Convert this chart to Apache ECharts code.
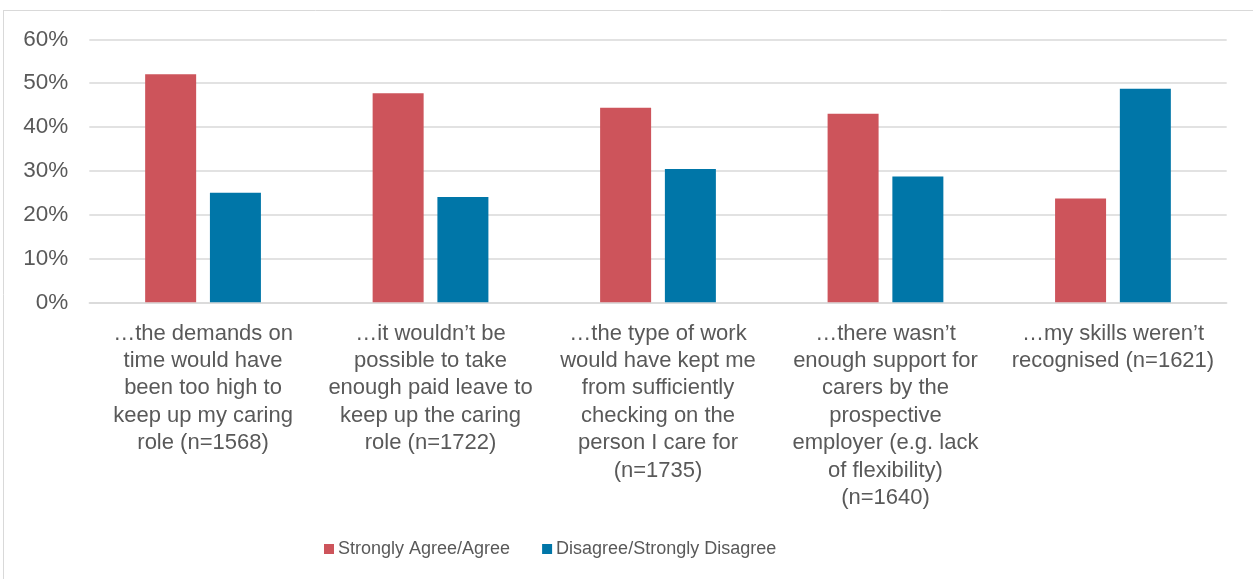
<!DOCTYPE html>
<html>
<head>
<meta charset="utf-8">
<script src="https://cdn.jsdelivr.net/npm/echarts@6/dist/echarts.min.js"></script>
<style>
  html, body { margin: 0; padding: 0; background: #ffffff; }
  #chart { width: 1253px; height: 579px; }
</style>
</head>
<body>
<div id="chart"></div>
<script>
// Survey statements (category axis), wrapped as they are printed
const categories = [
  '\u2026the demands on\ntime would have\nbeen too high to\nkeep up my caring\nrole (n=1568)',
  '\u2026it wouldn\u2019t be\npossible to take\nenough paid leave to\nkeep up the caring\nrole (n=1722)',
  '\u2026the type of work\nwould have kept me\nfrom sufficiently\nchecking on the\nperson I care for\n(n=1735)',
  '\u2026there wasn\u2019t\nenough support for\ncarers by the\nprospective\nemployer (e.g. lack\nof flexibility)\n(n=1640)',
  '\u2026my skills weren\u2019t\nrecognised (n=1621)'
];

// Share of respondents, in percent
const agreeValues = [52.0, 47.7, 44.4, 43.0, 23.7];
const disagreeValues = [25.0, 24.0, 30.4, 28.7, 48.7];

const seriesNames = ['Strongly Agree/Agree', 'Disagree/Strongly Disagree'];

// Value-axis ticks
const yMin = 0;
const yMax = 60;
const yStep = 10;

const FONT = '"Liberation Sans", Arial, sans-serif';
const TEXT_COLOR = '#595959';
const GRID_COLOR = '#d9d9d9';

const chart = echarts.init(document.getElementById('chart'), null, { renderer: 'canvas' });

chart.setOption({
  backgroundColor: '#ffffff',
  animation: false,
  textStyle: { fontFamily: FONT },
  graphic: [
    // chart frame: top and left edges
    { type: 'line', shape: { x1: 3, y1: 10.5, x2: 1253, y2: 10.5 }, style: { stroke: GRID_COLOR, lineWidth: 1 } },
    { type: 'line', shape: { x1: 3.5, y1: 10, x2: 3.5, y2: 579 }, style: { stroke: GRID_COLOR, lineWidth: 1 } }
  ],
  grid: {
    left: 89.3,
    right: 26.3,
    top: 39.3,
    bottom: 276.7,
    containLabel: false
  },
  legend: {
    data: seriesNames,
    top: 535,
    left: 319,
    itemWidth: 10,
    itemHeight: 10,
    itemGap: 32,
    icon: 'rect',
    textStyle: { fontFamily: FONT, fontSize: 18, color: TEXT_COLOR, padding: [0, 0, 0, -1] }
  },
  xAxis: {
    type: 'category',
    data: categories,
    axisLine: { show: true, lineStyle: { color: GRID_COLOR, width: 1.5 } },
    axisTick: { show: false },
    axisLabel: {
      interval: 0,
      margin: 17.5,
      fontFamily: FONT,
      fontSize: 22,
      lineHeight: 27.4,
      color: TEXT_COLOR,
      align: 'center',
      verticalAlign: 'top'
    }
  },
  yAxis: {
    type: 'value',
    min: yMin,
    max: yMax,
    interval: yStep,
    axisLine: { show: false },
    axisTick: { show: false },
    splitLine: { lineStyle: { color: GRID_COLOR, width: 1.5 } },
    axisLabel: {
      margin: 21,
      fontFamily: FONT,
      fontSize: 22.5,
      color: TEXT_COLOR,
      formatter: v => v + '%'
    }
  },
  series: [
    {
      name: seriesNames[0],
      type: 'bar',
      data: agreeValues,
      barWidth: 51,
      barGap: '27%',
      itemStyle: { color: '#cd545b' }
    },
    {
      name: seriesNames[1],
      type: 'bar',
      data: disagreeValues,
      barWidth: 51,
      barGap: '27%',
      itemStyle: { color: '#0076a8' }
    }
  ]
});
</script>
</body>
</html>
